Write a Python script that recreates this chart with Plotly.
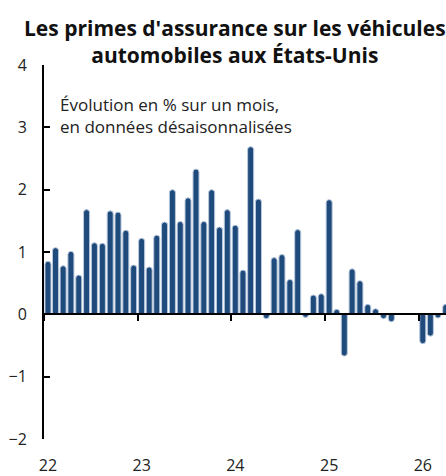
import pandas as pd
import plotly.graph_objects as go

# ---- data ----
months = [d.strftime("%Y-%m") for d in pd.date_range("2022-01-01", periods=52, freq="MS")]
values = [
    0.85, 1.07, 0.78, 1.01, 0.63, 1.68, 1.15, 1.14, 1.66, 1.64, 1.35, 0.79,   # 2022
    1.22, 0.76, 1.27, 1.48, 2.00, 1.49, 1.87, 2.33, 1.49, 2.00, 1.40, 1.68,   # 2023
    1.43, 0.71, 2.69, 1.85, -0.07, 0.91, 0.96, 0.56, 1.36, -0.05, 0.31, 0.33, # 2024
    1.84, 0.08, -0.67, 0.73, 0.54, 0.16, 0.09, -0.07, -0.12, None, None, None, # 2025
    -0.47, -0.35, -0.06, 0.16,                                                 # 2026
]
year_ticks = ["2022-01-01", "2023-01-01", "2024-01-01", "2025-01-01", "2026-01-01"]
year_labels = ["22", "23", "24", "25", "26"]
y_ticks = [-2, -1, 0, 1, 2, 3, 4]

title = "Les primes d'assurance sur les véhicules<br>automobiles aux États-Unis"
subtitle = "Évolution en % sur un mois,<br>en données désaisonnalisées"

FONT = "Open Sans"
BAR = "#1f4a7c"
DAY_MS = 86400000

fig = go.Figure()
fig.add_trace(go.Bar(
    x=months, y=values,
    xperiod="M1", xperiodalignment="middle",
    width=23.5 * DAY_MS,
    marker=dict(color=BAR, line=dict(color="#b9c9dd", width=1), cornerradius=3),
    showlegend=False, hoverinfo="x+y",
))
# invisible helper trace so the zero-level axis (x2) is drawn
fig.add_trace(go.Scatter(
    x=[months[0]], y=[0], xaxis="x2", mode="markers",
    marker=dict(opacity=0), showlegend=False, hoverinfo="skip",
))

fig.update_layout(
    width=446, height=476,
    margin=dict(l=44, r=0, t=65, b=37, autoexpand=False),
    paper_bgcolor="white", plot_bgcolor="white",
    font=dict(family=FONT, size=16, color="#222222"),
    xaxis=dict(type="date", range=["2022-01-01", "2026-04-17"],
               tickvals=year_ticks, ticktext=year_labels,
               showline=False, showgrid=False, zeroline=False, ticks="",
               ticklabelstandoff=15, ticklabelshift=4, automargin=False,
               tickfont=dict(size=16, color="#222222")),
    xaxis2=dict(type="date", overlaying="x", matches="x", anchor="free", position=1/3,
                side="bottom", tickvals=year_ticks, showticklabels=False,
                showline=True, linecolor="black", linewidth=2,
                ticks="outside", ticklen=6, tickwidth=2, tickcolor="black",
                showgrid=False, zeroline=False, automargin=False),
    yaxis=dict(range=[-2, 4], tickvals=y_ticks, showgrid=False, zeroline=False,
               showline=True, linecolor="black", linewidth=2,
               ticks="inside", ticklen=6, tickwidth=2, tickcolor="black",
               ticklabelstandoff=12, automargin=False,
               tickfont=dict(size=16, color="#222222")),
    bargap=0.2,
)

fig.add_annotation(text=title, xref="paper", yref="paper", x=191/402, y=(439 - 42)/374,
                   xanchor="center", yanchor="middle", align="center", showarrow=False,
                   font=dict(family=FONT, size=21, color="#111111", weight="bold"))

fig.add_annotation(text=subtitle, xref="paper", yref="paper", x=14/402, y=(439 - 115)/374,
                   xanchor="left", yanchor="middle", align="left", showarrow=False,
                   font=dict(family=FONT, size=17, color="#222222"))

fig.write_html(
    "out.html",
    config={"displayModeBar": False},
    post_script="document.body.style.margin='0';document.body.style.overflow='hidden';",
)
